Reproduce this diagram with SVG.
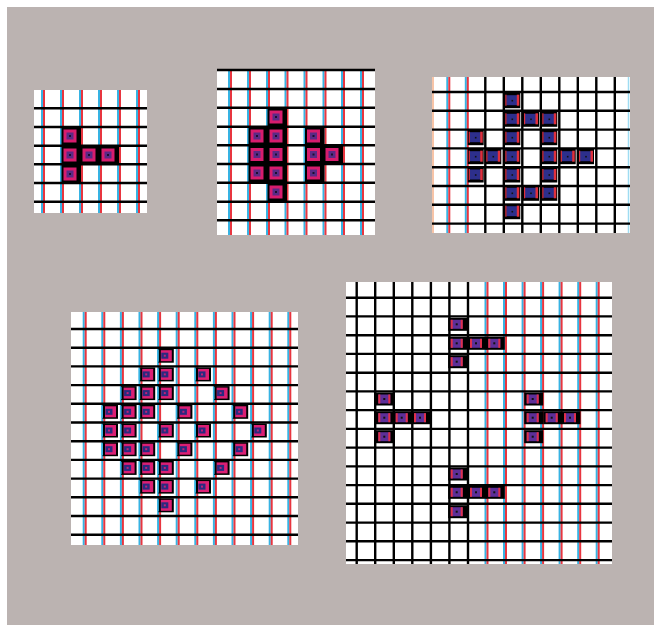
<svg xmlns="http://www.w3.org/2000/svg" width="655" height="625" viewBox="0 0 655 625">
<style>
.paper{fill:#ffffff}
.hl{stroke:#000;stroke-width:2.4;fill:none}
.vk{stroke:#000;stroke-width:2.4;fill:none}
.cy{stroke:#36b3e3;stroke-width:2;fill:none}
.rd{stroke:#e8353f;stroke-width:2;fill:none}
</style>
<defs>
<g id="cA">
<rect x="-8.5" y="-9" width="19.5" height="19" fill="#000"/>
<rect x="-6.5" y="-6.5" width="13" height="13" fill="#d81c6e"/>
<rect x="-3.5" y="-3.5" width="7" height="7" fill="#5a2a86"/>
<rect x="-1" y="-1" width="2" height="2" fill="#1a1030"/>
</g>
<g id="cB">
<rect x="-8" y="-8" width="16" height="15.5" fill="#000"/>
<rect x="-6" y="-5.5" width="11" height="10" fill="#2d2f8c"/>
<rect x="4.5" y="-6" width="2.5" height="11" fill="#e0303c"/>
<rect x="-7" y="-6" width="1.2" height="11" fill="#e0303c"/>
<rect x="-0.8" y="-0.8" width="1.6" height="1.6" fill="#111"/>
</g>
<g id="cC">
<rect x="-6.5" y="-7" width="15.5" height="14" fill="#000"/>
<rect x="-4" y="-5.5" width="11" height="11" fill="#dc1f74"/>
<rect x="-3.5" y="-3" width="7" height="6" fill="#2a2a80"/>
<rect x="-1" y="-1" width="2" height="2" fill="#c0207a"/>
<rect x="-7.5" y="-6" width="1.5" height="12" fill="#36b3e3"/>
</g>
<g id="cD">
<rect x="-8.5" y="-6.5" width="19" height="13" fill="#000"/>
<rect x="-6" y="-4.5" width="12" height="9" fill="#5d2f98"/>
<rect x="-6" y="-4.5" width="2" height="9" fill="#e0304a"/>
<rect x="4" y="-4.5" width="2" height="9" fill="#e0304a"/>
<rect x="-1" y="-1" width="2" height="2" fill="#111"/>
</g>
</defs>

<rect id="background" x="7" y="7" width="647" height="618" fill="#bbb3b1"/>

<g id="grid1">
<rect class="paper" x="34" y="90" width="113" height="123"/>
<path class="cy" d="M42 90V213M61 90V213M80 90V213M99 90V213M118 90V213M137 90V213"/>
<path class="rd" d="M44 90V213M63 90V213M82 90V213M101 90V213M120 90V213M139 90V213"/>
<path class="hl" d="M34 108.3H147M34 127H147M34 145.7H147M34 164.3H147M34 183H147M34 201.7H147"/>
<use href="#cA" x="70" y="136"/>
<use href="#cA" x="70" y="155"/>
<use href="#cA" x="89" y="155"/>
<use href="#cA" x="108" y="155"/>
<use href="#cA" x="70" y="174"/>
</g>

<g id="grid2">
<rect class="paper" x="217" y="70" width="158" height="165"/>
<path class="cy" d="M229 70V235M248 70V235M267 70V235M285.5 70V235M304.5 70V235M323.5 70V235M342 70V235M361 70V235"/>
<path class="rd" d="M231 70V235M250 70V235M269 70V235M287.5 70V235M306.5 70V235M325.5 70V235M344 70V235M363 70V235"/>
<path class="hl" d="M217 70H375M217 89H375M217 107.7H375M217 126.7H375M217 145.3H375M217 164H375M217 182.7H375M217 201.7H375M217 220.3H375"/>
<use href="#cA" x="276" y="117"/>
<use href="#cA" x="257" y="136"/>
<use href="#cA" x="276" y="136"/>
<use href="#cA" x="313.5" y="136"/>
<use href="#cA" x="257" y="154.5"/>
<use href="#cA" x="276" y="154.5"/>
<use href="#cA" x="313.5" y="154.5"/>
<use href="#cA" x="332" y="154.5"/>
<use href="#cA" x="257" y="173"/>
<use href="#cA" x="276" y="173"/>
<use href="#cA" x="313.5" y="173"/>
<use href="#cA" x="276" y="192"/>
</g>

<g id="grid3">
<rect class="paper" x="432" y="77" width="198" height="156"/>
<path d="M433 77V233" stroke="#f4b08a" stroke-width="1.5"/>
<path d="M628.5 77V233" stroke="#9fdcf2" stroke-width="1.5"/>
<path class="cy" d="M447.3 77V233M465.8 77V233"/>
<path class="rd" d="M449.3 77V233M467.8 77V233"/>
<path class="vk" d="M485.3 77V233M503.8 77V233M522.3 77V233M540.8 77V233M559.3 77V233M577.8 77V233M596.3 77V233M614.8 77V233"/>
<path class="hl" d="M432 92H630M432 110.8H630M432 129.6H630M432 148.4H630M432 167.2H630M432 186H630M432 204.8H630M432 223.6H630"/>
<use href="#cB" x="512.3" y="100.7"/>
<use href="#cB" x="512.3" y="119.3"/>
<use href="#cB" x="531" y="119.3"/>
<use href="#cB" x="549.3" y="119.3"/>
<use href="#cB" x="475.7" y="137.7"/>
<use href="#cB" x="512.3" y="137.7"/>
<use href="#cB" x="549.3" y="137.7"/>
<use href="#cB" x="475.7" y="156.7"/>
<use href="#cB" x="493.3" y="156.7"/>
<use href="#cB" x="512.3" y="156.7"/>
<use href="#cB" x="549.3" y="156.7"/>
<use href="#cB" x="567.7" y="156.7"/>
<use href="#cB" x="586" y="156.7"/>
<use href="#cB" x="475.7" y="175"/>
<use href="#cB" x="512.3" y="175"/>
<use href="#cB" x="549.3" y="175"/>
<use href="#cB" x="512.3" y="193.3"/>
<use href="#cB" x="531" y="193.3"/>
<use href="#cB" x="549.3" y="193.3"/>
<use href="#cB" x="512.3" y="211.7"/>
</g>

<g id="grid4">
<rect class="paper" x="71" y="312" width="227" height="233"/>
<path class="cy" d="M83.7 312V545M102.3 312V545M120.9 312V545M139.5 312V545M158.1 312V545M176.7 312V545M195.3 312V545M213.9 312V545M232.5 312V545M251.1 312V545M269.7 312V545M288.3 312V545"/>
<path class="rd" d="M85.7 312V545M104.3 312V545M122.9 312V545M141.5 312V545M160.1 312V545M178.7 312V545M197.3 312V545M215.9 312V545M234.5 312V545M253.1 312V545M271.7 312V545M290.3 312V545"/>
<path class="hl" d="M71 329H298M71 347.7H298M71 366.4H298M71 385.1H298M71 403.8H298M71 422.5H298M71 441.2H298M71 459.9H298M71 478.6H298M71 497.3H298M71 516H298M71 534.7H298"/>
<use href="#cC" x="164.8" y="355.7"/>
<use href="#cC" x="146.2" y="374.4"/>
<use href="#cC" x="164.8" y="374.4"/>
<use href="#cC" x="202" y="374.4"/>
<use href="#cC" x="127.6" y="393.1"/>
<use href="#cC" x="146.2" y="393.1"/>
<use href="#cC" x="164.8" y="393.1"/>
<use href="#cC" x="220.6" y="393.1"/>
<use href="#cC" x="109" y="411.8"/>
<use href="#cC" x="127.6" y="411.8"/>
<use href="#cC" x="146.2" y="411.8"/>
<use href="#cC" x="183.4" y="411.8"/>
<use href="#cC" x="239.2" y="411.8"/>
<use href="#cC" x="109" y="430.5"/>
<use href="#cC" x="127.6" y="430.5"/>
<use href="#cC" x="164.8" y="430.5"/>
<use href="#cC" x="202" y="430.5"/>
<use href="#cC" x="257.8" y="430.5"/>
<use href="#cC" x="109" y="449.2"/>
<use href="#cC" x="127.6" y="449.2"/>
<use href="#cC" x="146.2" y="449.2"/>
<use href="#cC" x="183.4" y="449.2"/>
<use href="#cC" x="239.2" y="449.2"/>
<use href="#cC" x="127.6" y="467.9"/>
<use href="#cC" x="146.2" y="467.9"/>
<use href="#cC" x="164.8" y="467.9"/>
<use href="#cC" x="220.6" y="467.9"/>
<use href="#cC" x="146.2" y="486.6"/>
<use href="#cC" x="164.8" y="486.6"/>
<use href="#cC" x="202" y="486.6"/>
<use href="#cC" x="164.8" y="505.3"/>
</g>

<g id="grid5">
<rect class="paper" x="346" y="282" width="266" height="282"/>
<path class="vk" d="M356.7 282V564M375.2 282V564M393.8 282V564M412.3 282V564M430.9 282V564M449.4 282V564M468 282V564"/>
<path class="cy" d="M485.5 282V564M504 282V564M522.6 282V564M541.1 282V564M559.6 282V564M578.2 282V564M596.7 282V564"/>
<path class="rd" d="M487.5 282V564M506 282V564M524.6 282V564M543.1 282V564M561.6 282V564M580.2 282V564M598.7 282V564"/>
<path class="hl" d="M346 297.7H612M346 316.4H612M346 335.2H612M346 353.9H612M346 372.7H612M346 391.4H612M346 410.1H612M346 428.9H612M346 447.6H612M346 466.4H612M346 485.1H612M346 503.8H612M346 522.6H612M346 541.3H612M346 560.1H612"/>
<use href="#cD" x="456.7" y="324.3"/>
<use href="#cD" x="456.7" y="343.3"/>
<use href="#cD" x="476" y="343.3"/>
<use href="#cD" x="494.3" y="343.3"/>
<use href="#cD" x="456.7" y="361.7"/>
<use href="#cD" x="384.3" y="399"/>
<use href="#cD" x="384.3" y="417.7"/>
<use href="#cD" x="401.7" y="417.7"/>
<use href="#cD" x="420" y="417.7"/>
<use href="#cD" x="384.3" y="436.7"/>
<use href="#cD" x="532.7" y="399"/>
<use href="#cD" x="532.7" y="417.7"/>
<use href="#cD" x="551.7" y="417.7"/>
<use href="#cD" x="570" y="417.7"/>
<use href="#cD" x="532.7" y="436.7"/>
<use href="#cD" x="456.7" y="474"/>
<use href="#cD" x="456.7" y="492.3"/>
<use href="#cD" x="476" y="492.3"/>
<use href="#cD" x="494.3" y="492.3"/>
<use href="#cD" x="456.7" y="511.7"/>
</g>
</svg>
